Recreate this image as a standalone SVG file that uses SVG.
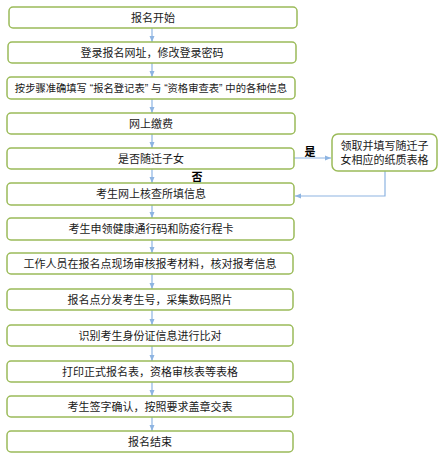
<svg xmlns="http://www.w3.org/2000/svg" width="447" height="461" viewBox="0 0 447 461">
<style>
.box{fill:#fff;stroke:#9BBB59;stroke-width:1.5}
.t{font-family:"Liberation Sans","Noto Sans CJK SC",sans-serif;font-size:11px;fill:#1a1a1a;text-anchor:middle}
.q{font-size:10.3px}
.b{font-family:"Liberation Sans","Noto Sans CJK SC",sans-serif;font-size:11px;font-weight:bold;fill:#000;text-anchor:middle}
.c{fill:none;stroke:#8DB4E2;stroke-width:1.2}
</style>
<defs>
<marker id="ah" viewBox="0 0 6 6" refX="6" refY="3" markerWidth="6" markerHeight="6" orient="auto" markerUnits="userSpaceOnUse">
<path d="M0,0.5 L6,3 L0,5.5 Z" fill="#8DB4E2"/>
</marker>
</defs>
<rect width="447" height="461" fill="#fff"/>
<g id="connectors">
<line class="c" x1="152" y1="28" x2="152" y2="42" marker-end="url(#ah)"/>
<line class="c" x1="152" y1="63" x2="152" y2="77" marker-end="url(#ah)"/>
<line class="c" x1="152" y1="99" x2="152" y2="113" marker-end="url(#ah)"/>
<line class="c" x1="152" y1="134" x2="152" y2="148" marker-end="url(#ah)"/>
<line class="c" x1="152" y1="169" x2="152" y2="183" marker-end="url(#ah)"/>
<line class="c" x1="152" y1="205" x2="152" y2="218" marker-end="url(#ah)"/>
<line class="c" x1="152" y1="240" x2="152" y2="253" marker-end="url(#ah)"/>
<line class="c" x1="152" y1="274" x2="152" y2="289" marker-end="url(#ah)"/>
<line class="c" x1="152" y1="310" x2="152" y2="325" marker-end="url(#ah)"/>
<line class="c" x1="152" y1="346" x2="152" y2="361" marker-end="url(#ah)"/>
<line class="c" x1="152" y1="382" x2="152" y2="396" marker-end="url(#ah)"/>
<line class="c" x1="152" y1="417" x2="152" y2="431" marker-end="url(#ah)"/>
<line class="c" x1="294" y1="158" x2="331" y2="158" marker-end="url(#ah)"/>
<polyline class="c" points="385,171 385,196 295,196" marker-end="url(#ah)"/>
<text class="b" x="310" y="156">是</text>
<text class="b" x="197" y="181">否</text>
</g>
<g id="n1"><rect class="box" x="9" y="7" width="288" height="21" rx="4"/><text class="t" x="153" y="21.5">报名开始</text></g>
<g id="n2"><rect class="box" x="8" y="42" width="288" height="21" rx="4"/><text class="t" x="152" y="56.5">登录报名网址，修改登录密码</text></g>
<g id="n3"><rect class="box" x="7" y="77" width="288" height="22" rx="4"/><text class="t q" x="151" y="92" xml:space="preserve">按步骤准确填写 “报名登记表” 与 “资格审查表” 中的各种信息</text></g>
<g id="n4"><rect class="box" x="7" y="113" width="288" height="21" rx="4"/><text class="t" x="151" y="127.5">网上缴费</text></g>
<g id="n5"><rect class="box" x="7" y="148" width="287" height="21" rx="4"/><text class="t" x="151" y="162.5">是否随迁子女</text></g>
<g id="n5b"><rect class="box" x="332" y="134" width="105" height="37" rx="6"/><text class="t" x="384.5" y="150">领取并填写随迁子</text><text class="t" x="384.5" y="164">女相应的纸质表格</text></g>
<g id="n6"><rect class="box" x="7" y="183" width="287" height="22" rx="4"/><text class="t" x="151" y="198">考生网上核查所填信息</text></g>
<g id="n7"><rect class="box" x="7" y="218" width="287" height="22" rx="4"/><text class="t" x="151" y="233">考生申领健康通行码和防疫行程卡</text></g>
<g id="n8"><rect class="box" x="7" y="253" width="286" height="21" rx="4"/><text class="t" x="150" y="267.5">工作人员在报名点现场审核报考材料，核对报考信息</text></g>
<g id="n9"><rect class="box" x="7" y="289" width="286" height="21" rx="4"/><text class="t" x="150" y="303.5">报名点分发考生号，采集数码照片</text></g>
<g id="n10"><rect class="box" x="7" y="325" width="286" height="21" rx="4"/><text class="t" x="150" y="339.5">识别考生身份证信息进行比对</text></g>
<g id="n11"><rect class="box" x="7" y="361" width="286" height="21" rx="4"/><text class="t" x="150" y="375.5">打印正式报名表，资格审核表等表格</text></g>
<g id="n12"><rect class="box" x="7" y="396" width="286" height="21" rx="4"/><text class="t" x="150" y="410.5">考生签字确认，按照要求盖章交表</text></g>
<g id="n13"><rect class="box" x="7" y="431" width="286" height="21" rx="4"/><text class="t" x="150" y="445.5">报名结束</text></g>
</svg>
